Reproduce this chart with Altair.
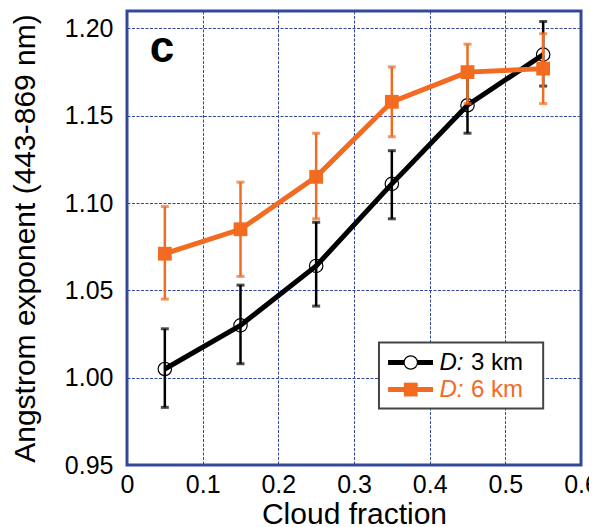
import altair as alt
import pandas as pd

cloud = [0.05, 0.15, 0.25, 0.35, 0.45, 0.55]
ae_3km = [1.005, 1.030, 1.064, 1.111, 1.156, 1.185]
lo_3km = [0.983, 1.008, 1.041, 1.091, 1.140, 1.167]
hi_3km = [1.028, 1.053, 1.089, 1.130, 1.172, 1.204]
ae_6km = [1.071, 1.085, 1.115, 1.158, 1.175, 1.177]
lo_6km = [1.045, 1.058, 1.091, 1.138, 1.157, 1.157]
hi_6km = [1.098, 1.112, 1.140, 1.178, 1.191, 1.197]

x_ticks = [0, 0.1, 0.2, 0.3, 0.4, 0.5, 0.6]
y_ticks = [0.95, 1.00, 1.05, 1.10, 1.15, 1.20]

BLACK = "#000000"
ORANGE = "#f26b21"
BLUE = "#34489a"
FONT = "Liberation Sans"

d3 = pd.DataFrame({"x": cloud, "y": ae_3km, "lo": lo_3km, "hi": hi_3km})
d6 = pd.DataFrame({"x": cloud, "y": ae_6km, "lo": lo_6km, "hi": hi_6km})

xs = alt.Scale(domain=[0, 0.6], nice=False, zero=False)
ys = alt.Scale(domain=[0.95, 1.21], nice=False, zero=False)

X = alt.X("x:Q", scale=xs, title="Cloud fraction",
          axis=alt.Axis(values=x_ticks,
                        labelExpr="datum.value == 0 ? '0' : format(datum.value, '.1f')"))
Y = alt.Y("y:Q", scale=ys, title="Angstrom exponent (443-869 nm)",
          axis=alt.Axis(values=y_ticks, format=".2f"))


def series(df, color, shape, filled, size):
    base = alt.Chart(df)
    line = base.mark_line(color=color, strokeWidth=5).encode(x=X, y=Y)
    rule = base.mark_rule(color=color, strokeWidth=2.5).encode(
        x=alt.X("x:Q", scale=xs), y=alt.Y("lo:Q", scale=ys), y2="hi:Q")
    cap_lo = base.mark_tick(color=color, orient="horizontal", size=8, thickness=3).encode(
        x=alt.X("x:Q", scale=xs), y=alt.Y("lo:Q", scale=ys))
    cap_hi = base.mark_tick(color=color, orient="horizontal", size=8, thickness=3).encode(
        x=alt.X("x:Q", scale=xs), y=alt.Y("hi:Q", scale=ys))
    if filled:
        pts = base.mark_point(shape=shape, filled=True, color=color, size=size, opacity=1).encode(
            x=alt.X("x:Q", scale=xs), y=alt.Y("y:Q", scale=ys))
    else:
        pts = base.mark_point(shape=shape, filled=False, color=color, size=size,
                              strokeWidth=1.2, opacity=1).encode(
            x=alt.X("x:Q", scale=xs), y=alt.Y("y:Q", scale=ys))
    return [line, rule, cap_lo, cap_hi, pts]


layers = series(d3, BLACK, "circle", False, 180) + series(d6, ORANGE, "square", True, 190)

# legend (in data units)
leg_box = pd.DataFrame({"x": [0.333], "x2": [0.550], "y": [0.9824], "y2": [1.0202]})
leg_rows = pd.DataFrame({
    "x": [0.345, 0.345], "x2": [0.4044, 0.4044], "y": [1.0087, 0.9932],
    "mx": [0.375, 0.375], "tx1": [0.413, 0.413], "tx2": [0.4545, 0.4545],
    "lab": ["3 km", "6 km"], "col": [BLACK, ORANGE]})

box = alt.Chart(leg_box).mark_rect(fill="white", stroke="#444444", strokeWidth=2).encode(
    x=alt.X("x:Q", scale=xs), x2="x2:Q", y=alt.Y("y:Q", scale=ys), y2="y2:Q")
leg_line = alt.Chart(leg_rows).mark_rule(strokeWidth=5).encode(
    x=alt.X("x:Q", scale=xs), x2="x2:Q", y=alt.Y("y:Q", scale=ys),
    color=alt.Color("col:N", scale=None))
leg_c = alt.Chart(leg_rows.iloc[[0]]).mark_point(shape="circle", filled=True, fill="white",
                                                 stroke=BLACK, strokeWidth=1.2, size=180, opacity=1).encode(
    x=alt.X("mx:Q", scale=xs), y=alt.Y("y:Q", scale=ys))
leg_s = alt.Chart(leg_rows.iloc[[1]]).mark_point(shape="square", filled=True, color=ORANGE,
                                                 size=190, opacity=1).encode(
    x=alt.X("mx:Q", scale=xs), y=alt.Y("y:Q", scale=ys))
leg_d = alt.Chart(leg_rows).mark_text(text="D:", font=FONT, fontSize=24, fontStyle="italic",
                                      align="left", baseline="middle").encode(
    x=alt.X("tx1:Q", scale=xs), y=alt.Y("y:Q", scale=ys), color=alt.Color("col:N", scale=None))
leg_t = alt.Chart(leg_rows).mark_text(font=FONT, fontSize=24, align="left", baseline="middle").encode(
    x=alt.X("tx2:Q", scale=xs), y=alt.Y("y:Q", scale=ys), text="lab:N",
    color=alt.Color("col:N", scale=None))

panel = pd.DataFrame({"x": [0.030], "y": [1.188], "t": ["c"]})
panel_txt = alt.Chart(panel).mark_text(font=FONT, fontSize=44, fontWeight="bold",
                                       align="left", baseline="middle", color=BLACK).encode(
    x=alt.X("x:Q", scale=xs), y=alt.Y("y:Q", scale=ys), text="t:N")

chart = alt.layer(*layers, box, leg_line, leg_c, leg_s, leg_d, leg_t, panel_txt).properties(
    width=454, height=454,
    autosize=alt.AutoSizeParams(type="none"),
    padding={"left": 119, "top": 3, "right": 8, "bottom": 62},
).configure_view(
    stroke=BLUE, strokeWidth=3
).configure_axis(
    grid=True, gridColor=BLUE, gridWidth=1, gridDash=[3, 1.5], gridOpacity=1,
    domain=False, ticks=False,
    labelFont=FONT, labelFontSize=25, labelColor=BLACK,
    titleFont=FONT, titleFontSize=30, titleColor=BLACK, titleFontWeight="normal",
).configure_axisX(
    labelPadding=7, titlePadding=2, labelFlush=False
).configure_axisY(
    labelPadding=14, titlePadding=24, labelFlush=False
)

chart.save("out.html", embed_options={"renderer": "svg", "actions": False})
